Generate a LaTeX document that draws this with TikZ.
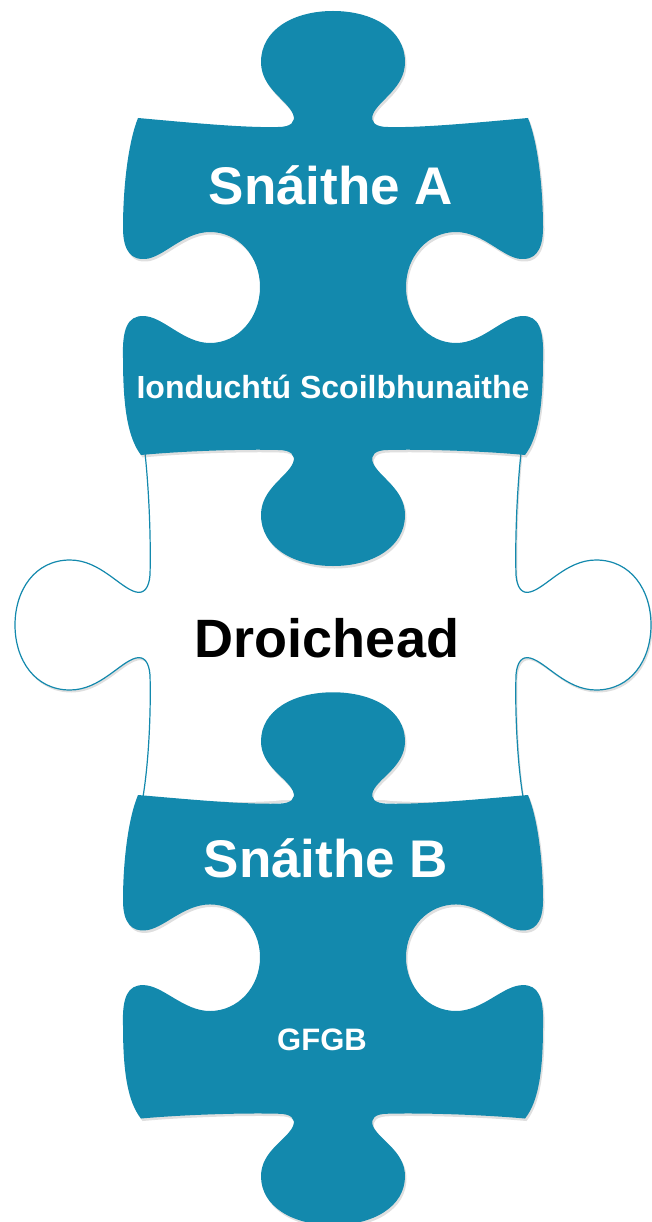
\documentclass[tikz,border=0pt]{standalone}
\usepackage{fontspec}
\setmainfont{Liberation Sans}
\usepackage{tikz}
\usetikzlibrary{shadows}
\definecolor{puzzleblue}{HTML}{1389AD}

% blue piece, origin at the middle of its top edge (y grows downwards)
\newcommand{\piecepath}{
  (-195,0) .. controls (-150,4) and (-90,10) .. (-55,9)
  .. controls (-42,9) and (-37,4) .. (-40,-4)
  .. controls (-46,-18) and (-72,-30) .. (-72,-56)
  .. controls (-72,-88) and (-40,-107) .. (0,-107)
  .. controls (40,-107) and (72,-88) .. (72,-56)
  .. controls (72,-30) and (46,-18) .. (40,-4)
  .. controls (37,4) and (42,9) .. (55,9)
  .. controls (90,10) and (150,4) .. (195,0)
  .. controls (205,25) and (210,70) .. (210,110)
  .. controls (210,135) and (200,142) .. (188,141)
  .. controls (170,140) and (150,114) .. (123,114)
  .. controls (95,114) and (73,138) .. (73,169)
  .. controls (73,200) and (95,225) .. (123,225)
  .. controls (150,225) and (170,198) .. (190,198)
  .. controls (205,198) and (211,210) .. (210,240)
  .. controls (210,290) and (205,320) .. (192,337)
  .. controls (150,333) and (90,331) .. (55,332)
  .. controls (42,332) and (37,337) .. (40,345)
  .. controls (46,359) and (72,371) .. (72,397)
  .. controls (72,429) and (40,448) .. (0,448)
  .. controls (-40,448) and (-72,429) .. (-72,397)
  .. controls (-72,371) and (-46,359) .. (-40,345)
  .. controls (-37,337) and (-42,332) .. (-55,332)
  .. controls (-90,331) and (-150,333) .. (-192,337)
  .. controls (-205,320) and (-210,290) .. (-210,240)
  .. controls (-211,210) and (-205,198) .. (-190,198)
  .. controls (-170,198) and (-150,225) .. (-123,225)
  .. controls (-95,225) and (-73,200) .. (-73,169)
  .. controls (-73,138) and (-95,114) .. (-123,114)
  .. controls (-150,114) and (-170,140) .. (-188,141)
  .. controls (-200,142) and (-210,135) .. (-210,110)
  .. controls (-210,70) and (-205,25) .. (-195,0) -- cycle}

\begin{document}
\begin{tikzpicture}[x=1pt, y=-1pt,
    piece shadow/.style={drop shadow={shadow xshift=1.5pt, shadow yshift=-2.5pt, opacity=0.25}},
    bluepiece/.style={fill=puzzleblue, piece shadow},
    bigtitle/.style={anchor=base, text=white, font=\bfseries\fontsize{53}{60}\selectfont},
    smalltitle/.style={anchor=base, text=white, font=\bfseries\fontsize{32}{38}\selectfont}]
  \useasboundingbox (0,0) rectangle (651,1222);

  % middle piece (white, with side tabs)
  \fill[white, piece shadow] (145,453)
    .. controls (149,490) and (151,540) .. (150,575)
    .. controls (149,588) and (144,594) .. (136,592)
    .. controls (120,588) and (100,560) .. (70,560)
    .. controls (35,560) and (15,590) .. (15,625)
    .. controls (15,660) and (35,690) .. (70,690)
    .. controls (100,690) and (120,662) .. (136,658)
    .. controls (144,656) and (149,662) .. (150,675)
    .. controls (151,710) and (149,760) .. (143,797)
    .. controls (183,801) and (253,804) .. (283,800) -- (383,800)
    .. controls (413,804) and (483,801) .. (523,797)
    .. controls (517,760) and (515,710) .. (516,675)
    .. controls (517,662) and (522,656) .. (530,658)
    .. controls (546,662) and (566,690) .. (596,690)
    .. controls (631,690) and (651,660) .. (651,625)
    .. controls (651,590) and (631,560) .. (596,560)
    .. controls (566,560) and (546,588) .. (530,592)
    .. controls (522,594) and (517,588) .. (516,575)
    .. controls (515,540) and (517,490) .. (521,453)
    .. controls (483,449) and (413,446) .. (383,449) -- (283,449)
    .. controls (253,446) and (183,449) .. (145,453) -- cycle;
  % its outline, left and right sides only
  \draw[puzzleblue, line width=1.2pt] (145,453)
    .. controls (149,490) and (151,540) .. (150,575)
    .. controls (149,588) and (144,594) .. (136,592)
    .. controls (120,588) and (100,560) .. (70,560)
    .. controls (35,560) and (15,590) .. (15,625)
    .. controls (15,660) and (35,690) .. (70,690)
    .. controls (100,690) and (120,662) .. (136,658)
    .. controls (144,656) and (149,662) .. (150,675)
    .. controls (151,710) and (149,760) .. (143,797);
  \draw[puzzleblue, line width=1.2pt] (523,797)
    .. controls (517,760) and (515,710) .. (516,675)
    .. controls (517,662) and (522,656) .. (530,658)
    .. controls (546,662) and (566,690) .. (596,690)
    .. controls (631,690) and (651,660) .. (651,625)
    .. controls (651,590) and (631,560) .. (596,560)
    .. controls (566,560) and (546,588) .. (530,592)
    .. controls (522,594) and (517,588) .. (516,575)
    .. controls (515,540) and (517,490) .. (521,453);

  % top piece
  \begin{scope}[shift={(333,118)}]
    \fill[bluepiece] \piecepath;
  \end{scope}
  % bottom piece, a little shorter
  \begin{scope}[shift={(333,795)}, yscale=0.96]
    \fill[bluepiece] \piecepath;
  \end{scope}

  \node[bigtitle] (snA) at (331,205) {Snáithe A};
  \node[smalltitle] (induction) at (333,398) {Ionduchtú Scoilbhunaithe};
  \node[anchor=base, font=\bfseries\fontsize{54}{60}\selectfont] (bridge) at (327,657) {Droichead};
  \node[bigtitle] (snB) at (326,877) {Snáithe B};
  \node[smalltitle, font=\bfseries\fontsize{31}{36}\selectfont] (gfgb) at (322,1050) {GFGB};
\end{tikzpicture}
\end{document}
